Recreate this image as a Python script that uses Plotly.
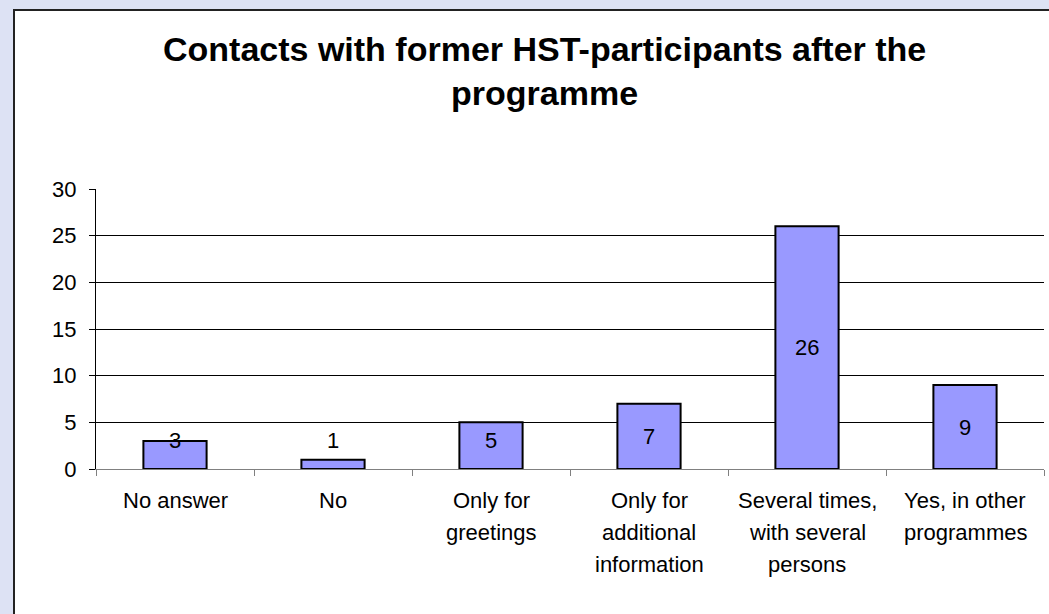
import plotly.graph_objects as go

# ---- data ----
categories = [
    "No answer",
    "No",
    "Only for<br>greetings",
    "Only for<br>additional<br>information",
    "Several times,<br>with several<br>persons",
    "Yes, in other<br>programmes",
]
values = [3, 1, 5, 7, 26, 9]
y_ticks = [0, 5, 10, 15, 20, 25, 30]
title_lines = ["Contacts with former HST-participants after the", "programme"]

# ---- layout geometry ----
W, H = 1049, 614
L, R, T, B = 96, 5, 189, 145
PW = W - L - R
PH = H - T - B
FONT = "Arial, Liberation Sans, sans-serif"


def px_x(p):
    return (p - L) / PW


def px_y(p):
    return (H - B - p) / PH


fig = go.Figure(
    go.Bar(
        x=categories,
        y=values,
        width=0.4,
        marker=dict(color="#9999FF", line=dict(color="black", width=2)),
        hoverinfo="skip",
    )
)

annotations = []
# value labels
for c, v in zip(categories, values):
    annotations.append(dict(
        x=c, y=max(v / 2, 3.1), xref="x", yref="y", text=str(v),
        showarrow=False, yanchor="middle", xanchor="center",
        font=dict(family=FONT, size=22, color="black"),
    ))
# category labels (one annotation per line for Excel-like line spacing)
for c in categories:
    for i, line in enumerate(c.split("<br>")):
        annotations.append(dict(
            x=c, y=0, xref="x", yref="y", text=line, showarrow=False,
            yanchor="middle", xanchor="center", yshift=-(31 + 32 * i),
            font=dict(family=FONT, size=22, color="black"),
        ))
# title
for i, line in enumerate(title_lines):
    annotations.append(dict(
        x=px_x(544), y=px_y(49 + 44 * i), xref="paper", yref="paper",
        text="<b>" + line + "</b>", showarrow=False,
        xanchor="center", yanchor="middle",
        font=dict(family=FONT, size=34, color="black"),
    ))

shapes = [
    dict(type="rect", xref="paper", yref="paper", layer="below",
         x0=px_x(14), x1=px_x(1080), y0=px_y(640), y1=px_y(10),
         fillcolor="white", line=dict(color="#222222", width=2)),
]

fig.update_layout(
    width=W, height=H,
    margin=dict(l=L, r=R, t=T, b=B, autoexpand=False),
    paper_bgcolor="#dde2f4",
    plot_bgcolor="rgba(0,0,0,0)",
    showlegend=False,
    bargap=0.6,
    annotations=annotations,
    shapes=shapes,
    xaxis=dict(
        type="category", showticklabels=False, tickson="boundaries",
        ticks="outside", ticklen=6, tickcolor="#808080", tickwidth=1,
        showline=True, linecolor="#808080", linewidth=1,
        showgrid=False, zeroline=False, fixedrange=True,
    ),
    yaxis=dict(
        range=[0, 30], tickvals=y_ticks, ticktext=[str(t) for t in y_ticks],
        ticks="outside", ticklen=6, tickcolor="black", tickwidth=1,
        showline=True, linecolor="black", linewidth=1,
        showgrid=True, gridcolor="black", gridwidth=1,
        zeroline=False, ticklabelstandoff=8,
        tickfont=dict(family=FONT, size=22, color="black"),
        fixedrange=True,
    ),
)

fig.write_html(
    "out.html",
    config={"displayModeBar": False},
    post_script="document.body.style.margin='0';document.body.style.overflow='hidden';",
)
